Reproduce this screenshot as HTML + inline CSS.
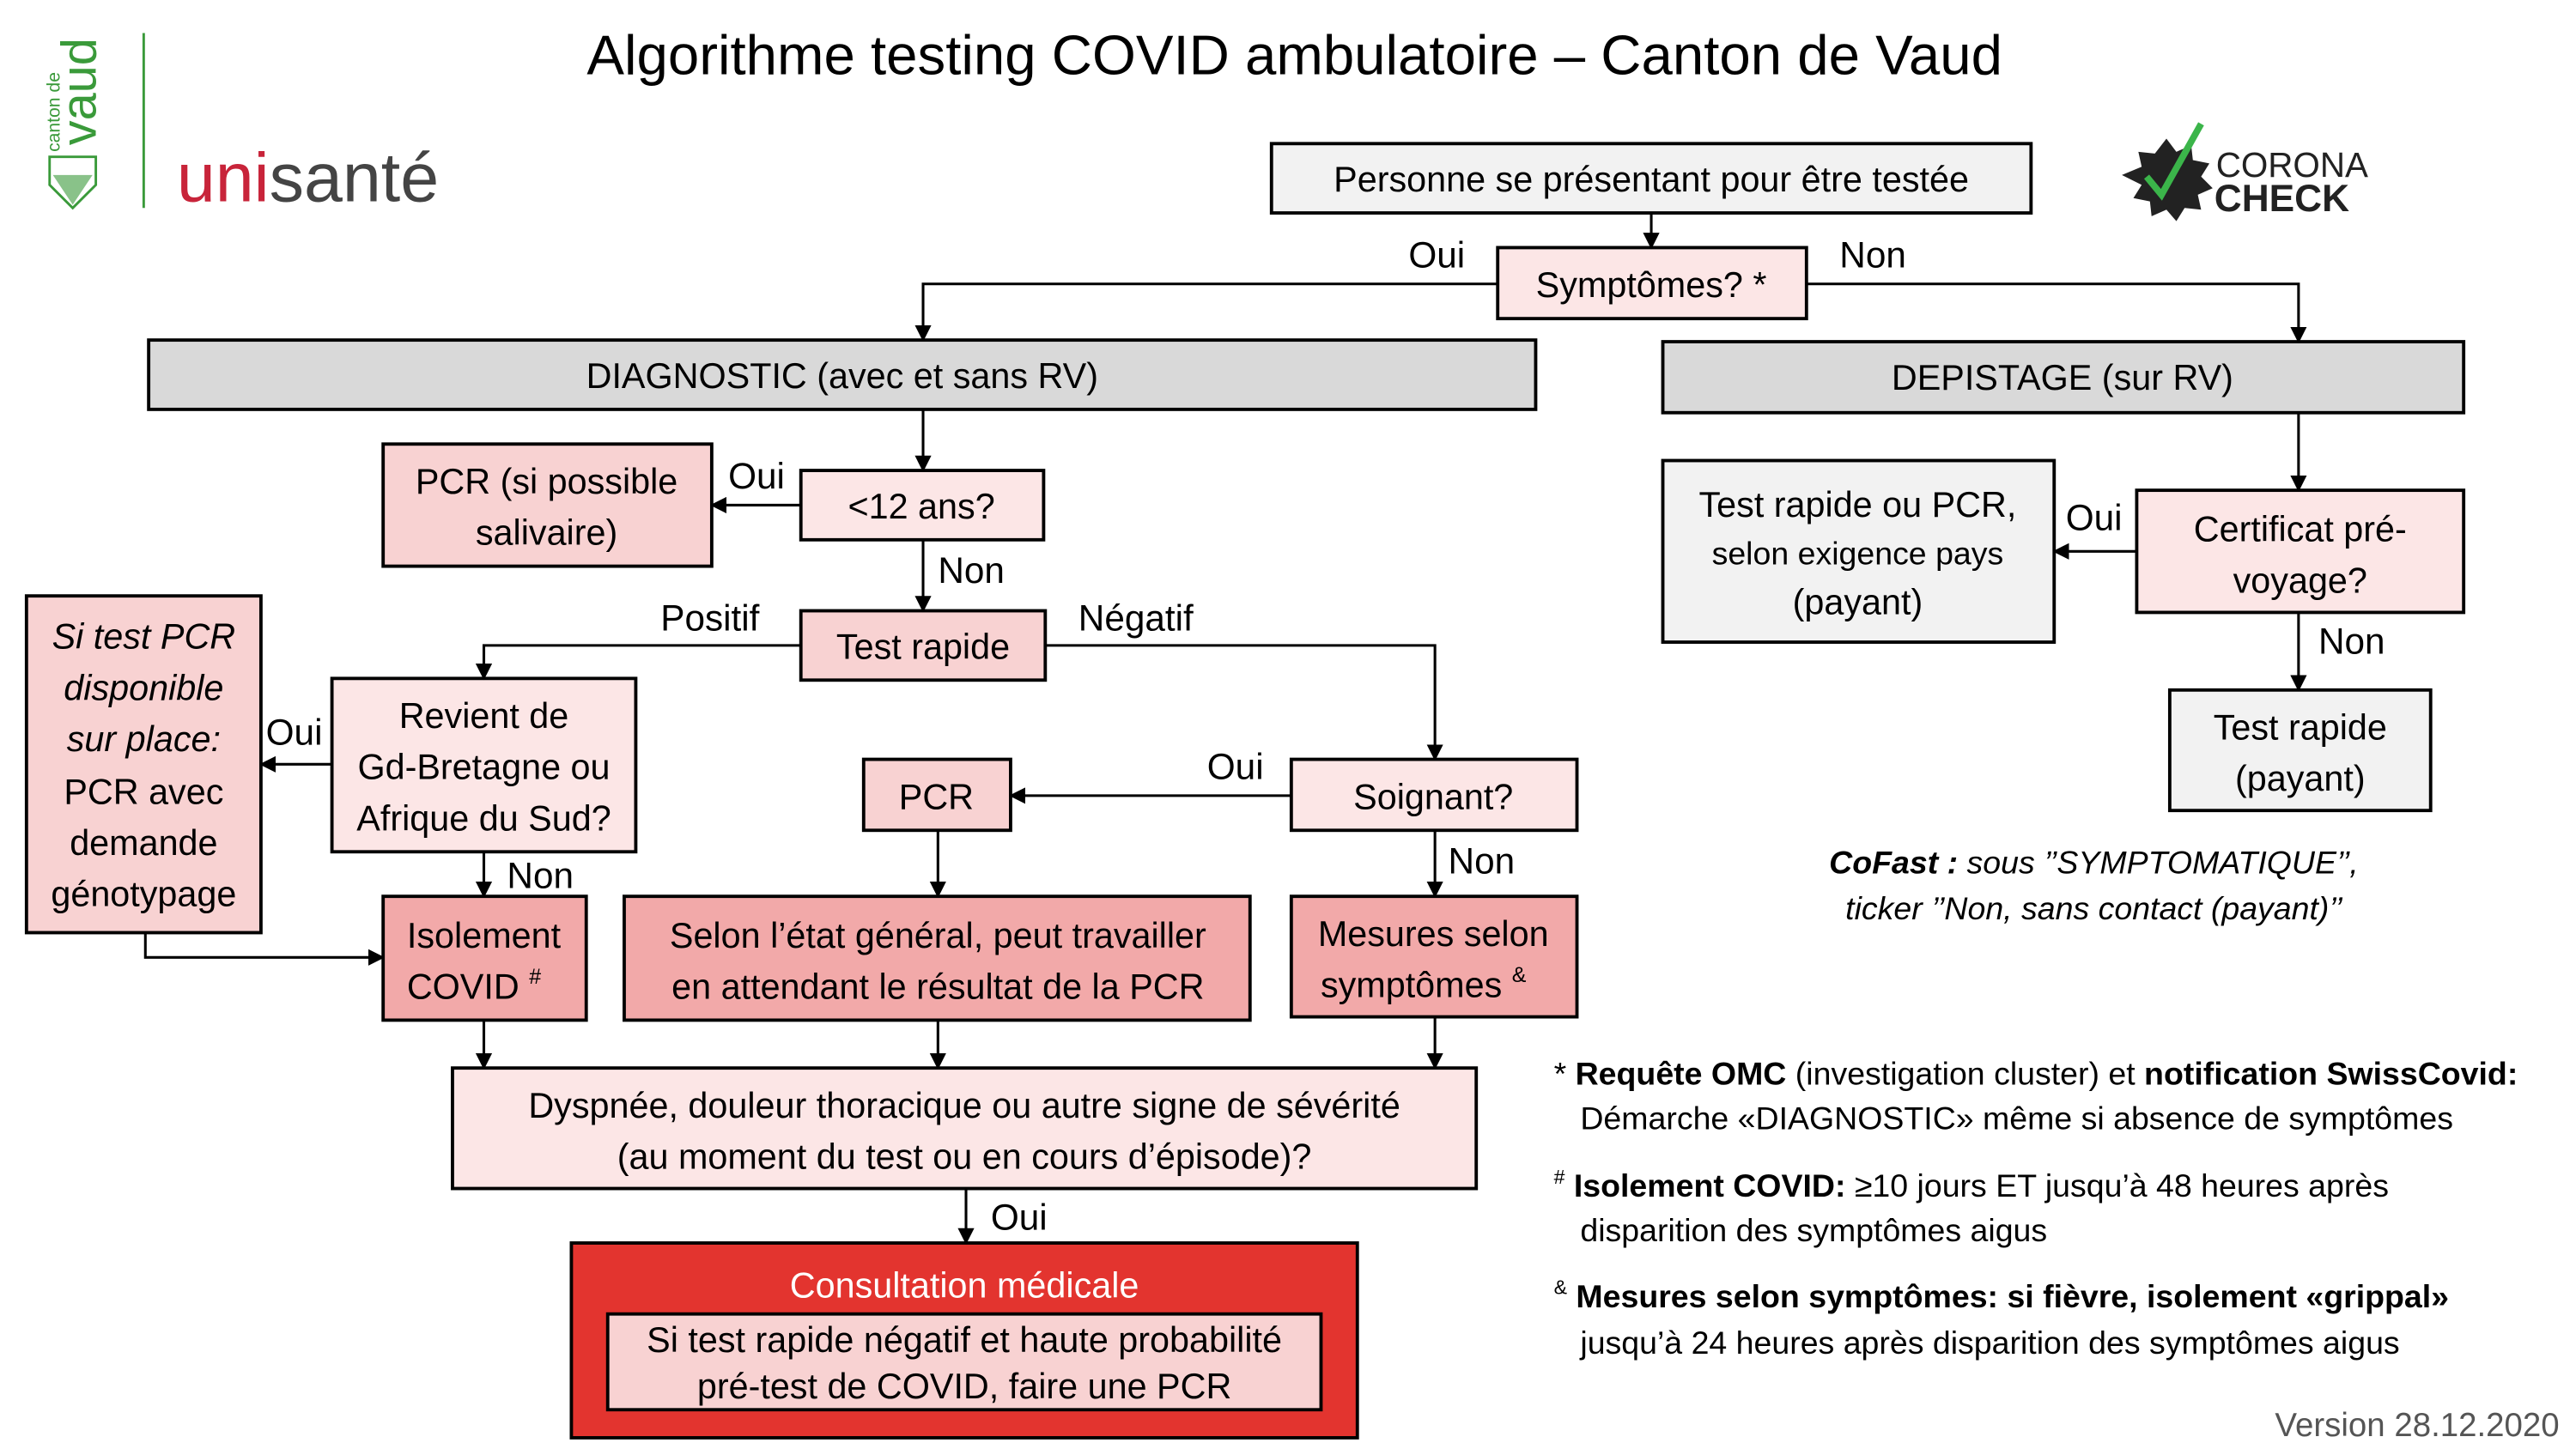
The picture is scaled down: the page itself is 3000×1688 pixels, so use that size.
<!DOCTYPE html>
<html><head><meta charset="utf-8"><style>
html,body{margin:0;padding:0;background:#fff;}
svg{display:block;}
text{font-family:"Liberation Sans Narrow","Liberation Sans",sans-serif;fill:#000;}
.b{font-size:21.5px;text-anchor:middle;}
.l{font-size:22px;}
.f{font-size:19.5px;}
</style></head><body>
<svg width="3000" height="1688" viewBox="0 0 1560 877.8" xmlns="http://www.w3.org/2000/svg">
<defs><marker id="a" markerWidth="10" markerHeight="10" refX="9" refY="5" orient="auto" markerUnits="userSpaceOnUse"><path d="M0,0 L10,5 L0,10 z" fill="#000"/></marker></defs>

<g fill="#3a9a3a">
<text x="0" y="0" transform="translate(58,88) rotate(-90)" style="font-family:'Liberation Sans',sans-serif;font-size:30px;fill:#3a9a3a">vaud</text>
<text x="0" y="0" transform="translate(36,92) rotate(-90)" style="font-family:'Liberation Sans',sans-serif;font-size:11px;fill:#3a9a3a">canton de</text>
<path d="M30,95 L58,95 L58,112 L44,126 L30,112 Z" fill="none" stroke="#3a9a3a" stroke-width="1.5"/>
<path d="M32,106 L56,106 L44,124 Z" fill="#3a9a3a" opacity="0.6"/>
</g>
<line x1="87" y1="20" x2="87" y2="126" stroke="#3a9a3a" stroke-width="1.5"/>
<text x="107" y="122" style="font-family:'Liberation Sans',sans-serif;font-size:42px;fill:#c8243a">uni<tspan style="fill:#444">santé</tspan></text>

<text x="784" y="45" style="font-size:34px;text-anchor:middle">Algorithme testing COVID ambulatoire – Canton de Vaud</text>

<polygon points="1312,84 1318,92 1327,88 1328,97 1338,99 1333,107 1340,114 1331,118 1333,127 1323,126 1318,134 1312,127 1303,131 1302,122 1292,120 1297,112 1285,106 1297,101 1295,92 1305,93" fill="#222"/>
<path d="M1300,107 L1309,118 L1333,75" fill="none" stroke="#3bb54a" stroke-width="4"/>
<text x="1342" y="107" style="font-family:'Liberation Sans',sans-serif;font-size:21px;fill:#222">CORONA</text>
<text x="1341" y="128" style="font-family:'Liberation Sans',sans-serif;font-size:23px;font-weight:bold;fill:#222">CHECK</text>

<g stroke="#000" stroke-width="2">
<rect x="770" y="87" width="460" height="42" fill="#f2f2f2"/>
<rect x="907" y="150" width="187" height="43" fill="#fce6e6"/>
<rect x="90" y="206" width="840" height="42" fill="#d9d9d9"/>
<rect x="1007" y="207" width="485" height="43" fill="#d9d9d9"/>
<rect x="485" y="285" width="147" height="42" fill="#fce6e6"/>
<rect x="232" y="269" width="199" height="74" fill="#f8d2d2"/>
<rect x="485" y="370" width="148" height="42" fill="#f8d2d2"/>
<rect x="201" y="411" width="184" height="105" fill="#fce6e6"/>
<rect x="16" y="361" width="142" height="204" fill="#f8d2d2"/>
<rect x="232" y="543" width="123" height="75" fill="#f2a9a9"/>
<rect x="782" y="460" width="173" height="43" fill="#fce6e6"/>
<rect x="523" y="460" width="89" height="43" fill="#f8d2d2"/>
<rect x="378" y="543" width="379" height="75" fill="#f2a9a9"/>
<rect x="782" y="543" width="173" height="73" fill="#f2a9a9"/>
<rect x="274" y="647" width="620" height="73" fill="#fce6e6"/>
<rect x="346" y="753" width="476" height="118" fill="#e3342f"/>
<rect x="368" y="796" width="432" height="58" fill="#f8d2d2"/>
<rect x="1007" y="279" width="237" height="110" fill="#f2f2f2"/>
<rect x="1294" y="297" width="198" height="74" fill="#fce6e6"/>
<rect x="1314" y="418" width="158" height="73" fill="#f2f2f2"/>
</g>

<g stroke="#000" stroke-width="1.6" fill="none" marker-end="url(#a)">
<path d="M1000,129 V150"/>
<path d="M907,172 H559 V206"/>
<path d="M1094,172 H1392 V207"/>
<path d="M559,248 V285"/>
<path d="M485,306 H431"/>
<path d="M559,327 V370"/>
<path d="M485,391 H293 V411"/>
<path d="M633,391 H869 V460"/>
<path d="M201,463 H158"/>
<path d="M293,516 V543"/>
<path d="M88,565 V580 H232"/>
<path d="M782,482 H612"/>
<path d="M568,503 V543"/>
<path d="M869,503 V543"/>
<path d="M293,618 V647"/>
<path d="M568,618 V647"/>
<path d="M869,616 V647"/>
<path d="M585,720 V753"/>
<path d="M1392,250 V297"/>
<path d="M1294,334 H1244"/>
<path d="M1392,371 V418"/>
</g>

<text class="b" x="1000" y="116">Personne se présentant pour être testée</text>
<text class="b" x="1000" y="180">Symptômes? *</text>
<text class="l" x="853" y="162">Oui</text>
<text class="l" x="1114" y="162">Non</text>
<text class="b" x="510" y="235">DIAGNOSTIC (avec et sans RV)</text>
<text class="b" x="1249" y="236">DEPISTAGE (sur RV)</text>
<text class="b" x="558" y="314">&lt;12 ans?</text>
<text class="b" x="331" y="299">PCR (si possible</text>
<text class="b" x="331" y="330">salivaire)</text>
<text class="l" x="441" y="296">Oui</text>
<text class="l" x="568" y="353">Non</text>
<text class="b" x="559" y="399">Test rapide</text>
<text class="l" x="400" y="382">Positif</text>
<text class="l" x="653" y="382">Négatif</text>
<text class="b" x="293" y="441">Revient de</text>
<text class="b" x="293" y="472">Gd-Bretagne ou</text>
<text class="b" x="293" y="503">Afrique du Sud?</text>
<text class="b" x="87" y="393" font-style="italic">Si test PCR</text>
<text class="b" x="87" y="424" font-style="italic">disponible</text>
<text class="b" x="87" y="455" font-style="italic">sur place:</text>
<text class="b" x="87" y="487">PCR avec</text>
<text class="b" x="87" y="518">demande</text>
<text class="b" x="87" y="549">génotypage</text>
<text class="l" x="161" y="451">Oui</text>
<text class="l" x="307" y="538">Non</text>
<text class="b" x="293" y="574">Isolement</text>
<text class="b" x="287" y="605">COVID <tspan font-size="13" dy="-9">#</tspan></text>
<text class="b" x="868" y="490">Soignant?</text>
<text class="l" x="731" y="472">Oui</text>
<text class="b" x="567" y="490">PCR</text>
<text class="b" x="568" y="574">Selon l’état général, peut travailler</text>
<text class="b" x="568" y="605">en attendant le résultat de la PCR</text>
<text class="l" x="877" y="529">Non</text>
<text class="b" x="868" y="573">Mesures selon</text>
<text class="b" x="862" y="604">symptômes <tspan font-size="13" dy="-9">&amp;</tspan></text>
<text class="b" x="584" y="677">Dyspnée, douleur thoracique ou autre signe de sévérité</text>
<text class="b" x="584" y="708">(au moment du test ou en cours d’épisode)?</text>
<text class="l" x="600" y="745">Oui</text>
<text class="b" x="584" y="786" style="fill:#fff">Consultation médicale</text>
<text class="b" x="584" y="819">Si test rapide négatif et haute probabilité</text>
<text class="b" x="584" y="847">pré-test de COVID, faire une PCR</text>
<text class="b" x="1125" y="313">Test rapide ou PCR,</text>
<text class="b" x="1125" y="342" style="font-size:19.5px">selon exigence pays</text>
<text class="b" x="1125" y="372">(payant)</text>
<text class="b" x="1393" y="328">Certificat pré-</text>
<text class="b" x="1393" y="359">voyage?</text>
<text class="l" x="1251" y="321">Oui</text>
<text class="l" x="1404" y="396">Non</text>
<text class="b" x="1393" y="448">Test rapide</text>
<text class="b" x="1393" y="479">(payant)</text>

<text class="f" x="1268" y="529" text-anchor="middle" font-style="italic"><tspan font-weight="bold">CoFast :</tspan> sous ’’SYMPTOMATIQUE’’,</text>
<text class="f" x="1268" y="557" text-anchor="middle" font-style="italic">ticker ’’Non, sans contact (payant)’’</text>

<text class="f" x="941" y="657"><tspan>* </tspan><tspan font-weight="bold">Requête OMC</tspan> (investigation cluster) et <tspan font-weight="bold">notification SwissCovid:</tspan></text>
<text class="f" x="957" y="684">Démarche «DIAGNOSTIC» même si absence de symptômes</text>
<text class="f" x="941" y="725"><tspan font-size="12" dy="-8">#</tspan><tspan dy="8" font-weight="bold"> Isolement COVID:</tspan> ≥10 jours ET jusqu’à 48 heures après</text>
<text class="f" x="957" y="752">disparition des symptômes aigus</text>
<text class="f" x="941" y="792"><tspan font-size="12" dy="-8">&amp;</tspan><tspan dy="8" font-weight="bold"> Mesures selon symptômes: si fièvre, isolement «grippal»</tspan></text>
<text class="f" x="957" y="820">jusqu’à 24 heures après disparition des symptômes aigus</text>
<text x="1550" y="870" text-anchor="end" style="font-family:'Liberation Sans',sans-serif;font-size:20px;fill:#555">Version 28.12.2020</text>
</svg>
</body></html>
